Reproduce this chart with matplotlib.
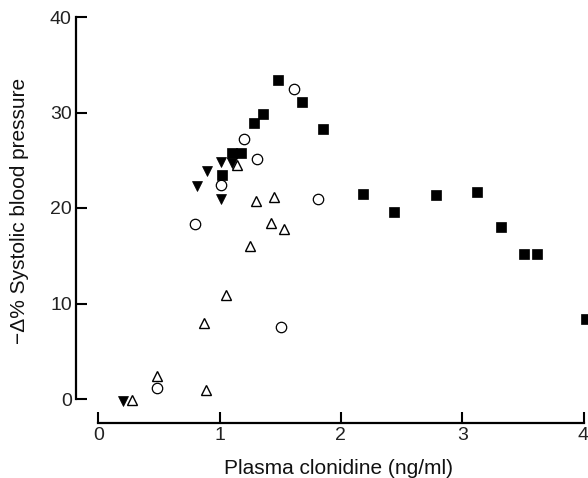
import matplotlib
matplotlib.use("Agg")
import matplotlib.pyplot as plt

plt.rcParams['font.family'] = ['Liberation Sans', 'DejaVu Sans']

# Filled squares
sq_x = [1.02, 1.10, 1.18, 1.28, 1.36, 1.48, 1.68, 1.85, 2.18, 2.44, 2.78, 3.12, 3.32, 3.51, 3.62, 4.02]
sq_y = [23.5, 25.8, 25.8, 28.9, 29.8, 33.4, 31.1, 28.3, 21.5, 19.6, 21.4, 21.7, 18.0, 15.2, 15.2, 8.4]

# Open circles
ci_x = [0.48, 0.80, 1.01, 1.20, 1.31, 1.51, 1.61, 1.81]
ci_y = [1.1, 18.3, 22.4, 27.2, 25.1, 7.5, 32.5, 20.9]

# Filled downward triangles
td_x = [0.20, 0.81, 0.90, 1.01, 1.01, 1.10]
td_y = [-0.2, 22.3, 23.9, 20.9, 24.8, 24.7]

# Open upward triangles
tu_x = [0.28, 0.48, 0.87, 0.89, 1.05, 1.14, 1.25, 1.30, 1.42, 1.45, 1.53]
tu_y = [-0.1, 2.4, 8.0, 0.9, 10.9, 24.5, 16.0, 20.7, 18.4, 21.2, 17.8]

x_ticks = [0, 1, 2, 3, 4]
y_ticks = [0, 10, 20, 30, 40]

W, H = 588, 478
fig = plt.figure(figsize=(W / 100, H / 100), dpi=100)
left_px, right_px, top_px, bottom_px = 76, 585, 17, 423
ax = fig.add_axes([left_px / W, (H - bottom_px) / H,
                   (right_px - left_px) / W, (bottom_px - top_px) / H])

ax.plot(tu_x, tu_y, linestyle='none', marker='^', markersize=6.5,
        markerfacecolor='white', markeredgecolor='black', markeredgewidth=1.0, clip_on=False, zorder=3)
ax.plot(ci_x, ci_y, linestyle='none', marker='o', markersize=7.5,
        markerfacecolor='white', markeredgecolor='black', markeredgewidth=0.9, clip_on=False, zorder=3)
ax.plot(td_x, td_y, linestyle='none', marker='v', markersize=7,
        markerfacecolor='black', markeredgecolor='black', markeredgewidth=0.5, clip_on=False, zorder=4)
ax.plot(sq_x, sq_y, linestyle='none', marker='s', markersize=6.5,
        markerfacecolor='black', markeredgecolor='black', markeredgewidth=0.5, clip_on=False, zorder=4)

# data 0 at x=98.3 px, 121.3 px per unit
ax.set_xlim((left_px - 98.3) / 121.3, (right_px - 98.3) / 121.3)
ax.set_ylim(-(bottom_px - 399) / 9.55, 40)

for s in ['top', 'right']:
    ax.spines[s].set_visible(False)
ax.spines['left'].set_bounds(0, 40)
ax.spines['bottom'].set_bounds(0, 4)
ax.spines['left'].set_linewidth(1.6)
ax.spines['bottom'].set_linewidth(1.6)

ax.set_xticks(x_ticks)
ax.set_yticks(y_ticks)
ax.set_xticklabels([str(v) for v in x_ticks])
ax.set_yticklabels([str(v) for v in y_ticks])
ax.tick_params(axis='both', direction='in', length=8, width=1.5, labelsize=14,
               colors='black', labelcolor='#222222')
ax.tick_params(axis='y', pad=3)
ax.tick_params(axis='x', pad=3)

fig.text(338 / W, 1 - 469 / H, 'Plasma clonidine (ng/ml)', fontsize=15,
         ha='center', va='center', color='#111111')
fig.text(20 / W, 1 - 211 / H, '\u2212\u0394% Systolic blood pressure', fontsize=15,
         rotation=90, ha='center', va='center', color='#111111')

fig.savefig('out.png', dpi=100)
